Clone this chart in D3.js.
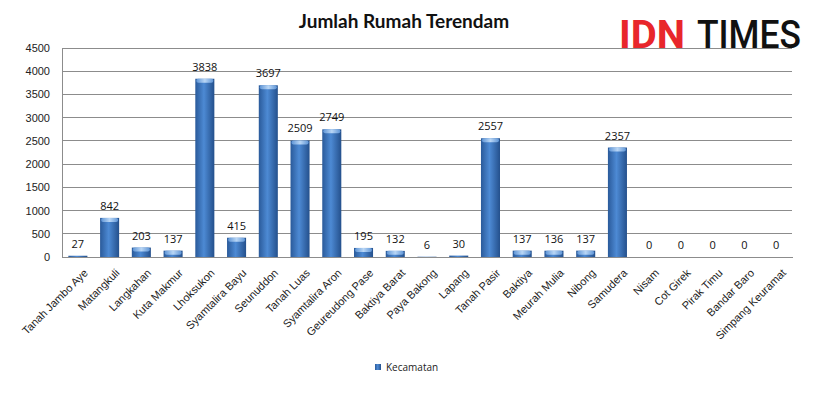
<!DOCTYPE html>
<html>
<head>
<meta charset="utf-8">
<script src="https://cdn.jsdelivr.net/npm/d3@7"></script>
<style>
  body { margin: 0; background: #fff; }
  svg { font-family: "Open Sans", sans-serif; }
</style>
</head>
<body>
<svg id="chart"></svg>
<script>
const categories = ["Tanah Jambo Aye", "Matangkuli", "Langkahan", "Kuta Makmur", "Lhoksukon",
  "Syamtalira Bayu", "Seunuddon", "Tanah Luas", "Syamtalira Aron", "Geureudong Pase",
  "Baktiya Barat", "Paya Bakong", "Lapang", "Tanah Pasir", "Baktiya", "Meurah Mulia",
  "Nibong", "Samudera", "Nisam", "Cot Girek", "Pirak Timu", "Bandar Baro", "Simpang Keuramat"];
const values = [27, 842, 203, 137, 3838, 415, 3697, 2509, 2749, 195, 132, 6, 30, 2557, 137, 136, 137, 2357, 0, 0, 0, 0, 0];
const yTicks = [0, 500, 1000, 1500, 2000, 2500, 3000, 3500, 4000, 4500];
const seriesName = "Kecamatan";

const data = categories.map((c, i) => ({name: c, value: values[i]}));

const W = 820, H = 398;
const margin = {top: 48, right: 28, bottom: 141, left: 62};
const width = W - margin.left - margin.right,
      height = H - margin.top - margin.bottom;

const svg = d3.select("#chart").attr("width", W).attr("height", H);

// cylinder-ish gradient like the excel bars
const defs = svg.append("defs");
const grad = defs.append("linearGradient").attr("id", "barGrad")
  .attr("x1", "0%").attr("x2", "100%").attr("y1", "0%").attr("y2", "0%");
grad.append("stop").attr("offset", "0%").attr("stop-color", "#2a5a9a");
grad.append("stop").attr("offset", "45%").attr("stop-color", "#4d8ad4");
grad.append("stop").attr("offset", "100%").attr("stop-color", "#24508c");
const cap = defs.append("linearGradient").attr("id", "capGrad")
  .attr("x1", "0%").attr("x2", "100%");
cap.append("stop").attr("offset", "0%").attr("stop-color", "#5f95d6");
cap.append("stop").attr("offset", "50%").attr("stop-color", "#b9d6f5");
cap.append("stop").attr("offset", "100%").attr("stop-color", "#5f95d6");

const g = svg.append("g").attr("transform", `translate(${margin.left},${margin.top})`);

const x = d3.scaleBand().domain(categories).range([0, width]).paddingInner(0.4).paddingOuter(0.2);
const y = d3.scaleLinear().domain([0, 4500]).range([height, 0]);

// gridlines
g.append("g").selectAll("line").data(yTicks).join("line")
  .attr("x1", 0).attr("x2", width)
  .attr("y1", d => y(d)).attr("y2", d => y(d))
  .attr("stroke", "#8c8c8c").attr("stroke-width", 1).attr("shape-rendering", "crispEdges");

// y axis
const yAxis = g.append("g").call(d3.axisLeft(y).tickValues(yTicks).tickFormat(d3.format("d")).tickSize(0).tickPadding(12));
yAxis.select(".domain").attr("stroke", "#8c8c8c").attr("shape-rendering", "crispEdges");
yAxis.selectAll("text").attr("font-size", 11).attr("fill", "#222");

// bars
g.append("g").selectAll("rect").data(data).join("rect")
  .attr("x", d => x(d.name))
  .attr("y", d => y(d.value))
  .attr("width", x.bandwidth())
  .attr("height", d => height - y(d.value))
  .attr("fill", "url(#barGrad)");
g.append("g").selectAll("rect").data(data.filter(d => d.value > 60)).join("rect")
  .attr("x", d => x(d.name) + 1)
  .attr("y", d => y(d.value))
  .attr("width", x.bandwidth() - 2)
  .attr("height", 4)
  .attr("rx", 2)
  .attr("fill", "url(#capGrad)");

// value labels
g.append("g").selectAll("text").data(data).join("text")
  .attr("x", d => x(d.name) + x.bandwidth() / 2)
  .attr("y", d => y(d.value) - 8)
  .attr("text-anchor", "middle")
  .attr("font-size", 11).attr("fill", "#111")
  .text(d => d.value);

// x axis
const xAxis = g.append("g").attr("transform", `translate(0,${height})`)
  .call(d3.axisBottom(x).tickSize(0).tickPadding(6));
xAxis.select(".domain").attr("stroke", "#8c8c8c").attr("shape-rendering", "crispEdges");
xAxis.selectAll("text")
  .attr("font-size", 11).attr("fill", "#222")
  .attr("text-anchor", "end")
  .attr("dy", "0.3em")
  .attr("transform", "translate(4,10) rotate(-45)");

// title
svg.append("text")
  .attr("x", 404).attr("y", 28)
  .attr("text-anchor", "middle")
  .attr("font-family", "Lato, sans-serif")
  .attr("font-weight", "bold").attr("font-size", 19).attr("fill", "#111")
  .text("Jumlah Rumah Terendam");

// logo
svg.append("text")
  .attr("x", 619).attr("y", 48)
  .attr("font-family", "Roboto, sans-serif")
  .attr("font-size", 39).attr("font-weight", "bold").attr("fill", "#e8262b")
  .attr("textLength", 66).attr("lengthAdjust", "spacingAndGlyphs")
  .text("IDN");
svg.append("text")
  .attr("x", 697).attr("y", 48)
  .attr("font-family", "Roboto, sans-serif")
  .attr("font-size", 39).attr("font-weight", 500).attr("fill", "#111")
  .attr("textLength", 104).attr("lengthAdjust", "spacingAndGlyphs")
  .text("TIMES");

// legend
const leg = svg.append("g").attr("transform", "translate(375,364)");
leg.append("rect").attr("width", 6).attr("height", 6).attr("fill", "url(#barGrad)");
leg.append("text").attr("x", 11).attr("y", 7)
  .attr("font-size", 10).attr("fill", "#222").text(seriesName);
</script>
</body>
</html>
